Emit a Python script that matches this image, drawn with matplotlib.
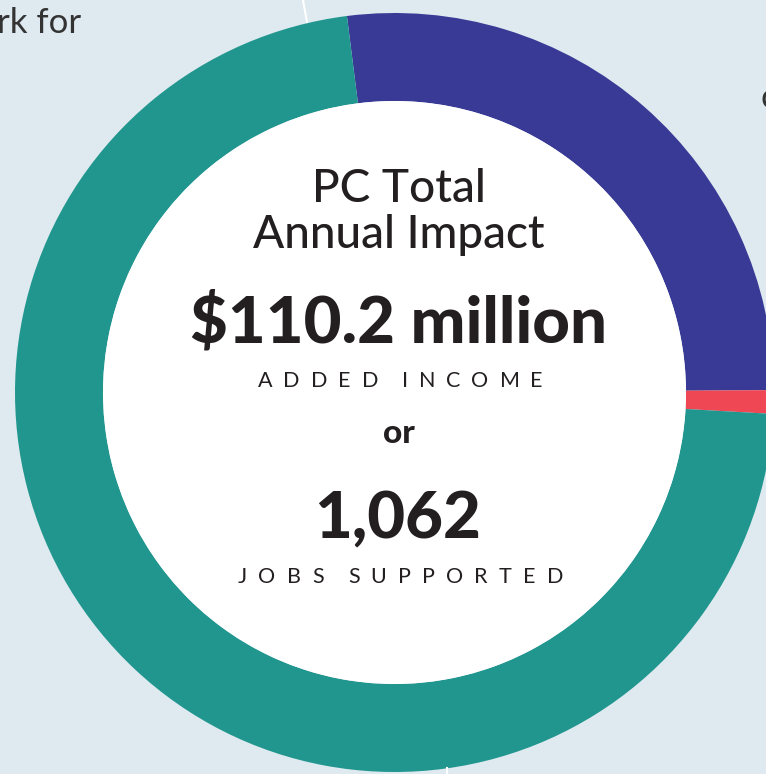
import matplotlib
matplotlib.use("Agg")
import matplotlib.pyplot as plt
from matplotlib.patches import Circle

# Data
categories = ["Purple segment", "Red segment", "Teal segment"]
shares = [26.9, 1.0, 72.1]
colors = ["#383A95", "#EF4754", "#21968F"]
title_lines = ["PC Total", "Annual Impact"]
income_value = "$110.2 million"
income_label = "ADDED INCOME"
jobs_value = "1,062"
jobs_label = "JOBS SUPPORTED"

W, H = 766, 774
fig = plt.figure(figsize=(W / 100, H / 100), dpi=100)
fig.patch.set_facecolor("#DEEAEF")
ax = fig.add_axes([0, 0, 1, 1])

def Y(y):
    return H - y

cx, cy = 394.5, Y(392.5)
R, r_in = 379.5, 291.5
ax.pie(shares, colors=colors, startangle=97.2, counterclock=False,
       radius=R, center=(cx, cy), frame=True,
       wedgeprops=dict(width=R - r_in, linewidth=0))
ax.set_xlim(0, W)
ax.set_ylim(0, H)
ax.set_aspect("equal")
ax.axis("off")
ax.add_patch(Circle((cx, cy), r_in, facecolor="white", edgecolor="none", zorder=3))

# decorative white lines of background
ax.plot([303, 307], [Y(0), Y(22)], color="white", lw=1.5, zorder=1)
ax.plot([447, 447], [Y(768), Y(774)], color="white", lw=1.5, zorder=1)

fam = ["Lato", "DejaVu Sans"]
tc = "#231F20"
renderer = fig.canvas.get_renderer()

def tracked(x0, x1, y, s, fontsize):
    widths = []
    for ch in s:
        t = ax.text(0, 0, ch if ch != " " else "n", fontsize=fontsize, family=fam)
        bb = t.get_window_extent(renderer)
        widths.append(bb.width if ch != " " else bb.width * 0.15)
        t.remove()
    gap = (x1 - x0 - sum(widths)) / (len(s) - 1)
    x = x0
    for ch, w in zip(s, widths):
        if ch != " ":
            ax.text(x, y, ch, fontsize=fontsize, color=tc, family=fam,
                    ha="left", va="baseline", zorder=4)
        x += w + gap

ax.text(-3, Y(33), "rk for", fontsize=25, color="#333333", family=fam,
        ha="left", va="baseline", zorder=4)
ax.text(760, Y(108), "c", fontsize=25, color="#333333", family=fam,
        ha="left", va="baseline", zorder=4)

ax.text(399, Y(202), title_lines[0], fontsize=33, color=tc, family=fam,
        fontweight="medium", ha="center", va="baseline", zorder=4)
ax.text(399, Y(248), title_lines[1], fontsize=33, color=tc, family=fam,
        fontweight="medium", ha="center", va="baseline", zorder=4)
ax.text(398, Y(342), income_value, fontsize=47, color=tc, family=fam,
        fontweight="black", ha="center", va="baseline", zorder=4)
tracked(258, 543, Y(387), income_label, 15.5)
ax.text(399, Y(443), "or", fontsize=24, color=tc, family=fam,
        fontweight="black", ha="center", va="baseline", zorder=4)
ax.text(398, Y(538), jobs_value, fontsize=47, color=tc, family=fam,
        fontweight="black", ha="center", va="baseline", zorder=4)
tracked(238, 563, Y(583), jobs_label, 15.5)

fig.savefig("out.png", dpi=100, facecolor=fig.get_facecolor())
